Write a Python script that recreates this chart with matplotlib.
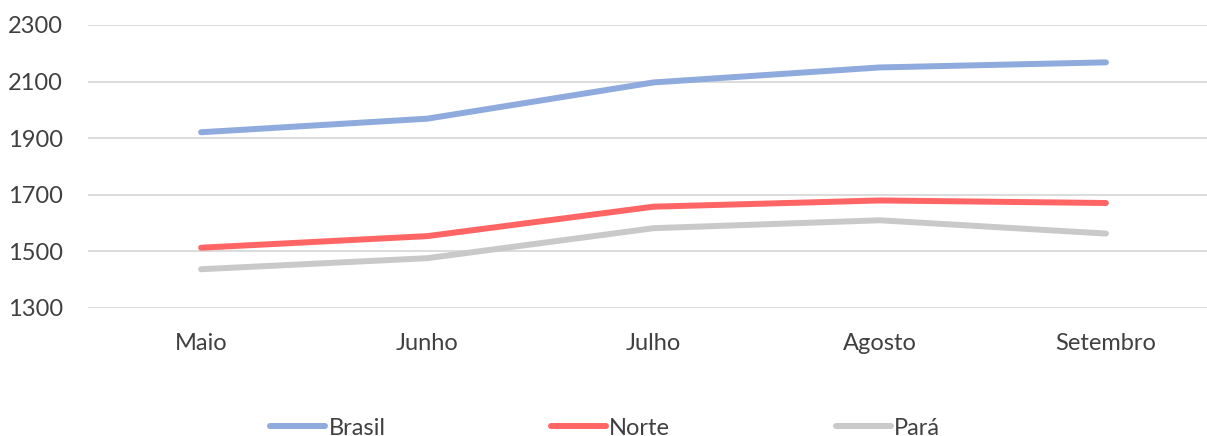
import matplotlib
matplotlib.use("Agg")
import matplotlib.pyplot as plt
from matplotlib.lines import Line2D

months = ["Maio", "Junho", "Julho", "Agosto", "Setembro"]
brasil = [1921, 1969, 2097, 2150, 2168]
norte = [1513, 1554, 1658, 1680, 1671]
para = [1437, 1476, 1582, 1610, 1563]
yticks = [1300, 1500, 1700, 1900, 2100, 2300]

series = [
    ("Brasil", brasil, "#8FAADC"),
    ("Norte", norte, "#FF6565"),
    ("Pará", para, "#C9C9C9"),
]

plt.rcParams["font.family"] = ["Lato", "DejaVu Sans"]
text_color = "#404040"

W, H = 1207, 436
fig = plt.figure(figsize=(W / 100, H / 100), dpi=100)
left, right = 88 / W, 1219 / W
bottom, top = 1 - 308 / H, 1 - 25 / H
ax = fig.add_axes([left, bottom, right - left, top - bottom])

x = list(range(len(months)))
handles = []
for name, vals, color in series:
    ax.plot(x, vals, color=color, lw=4.3, solid_capstyle="round",
            solid_joinstyle="round", label=name, zorder=3)
    handles.append(Line2D([], [], color=color, lw=4.3, solid_capstyle="round"))

ax.set_xlim(-0.5, len(months) - 0.5)
ax.set_ylim(1300, 2300)
ax.set_yticks(yticks)
ax.set_xticks(x)
ax.set_xticklabels(months)
ax.grid(axis="y", color="#D9D9D9", lw=1.3, zorder=0)
for s in ax.spines.values():
    s.set_visible(False)
ax.tick_params(axis="both", length=0, labelsize=17, colors=text_color)
ax.tick_params(axis="x", pad=18)
ax.tick_params(axis="y", pad=18)

fig.legend(handles, [s[0] for s in series], loc="center",
           bbox_to_anchor=(605 / W, 1 - 428 / H), ncol=3, frameon=False,
           handlelength=2.33, handletextpad=0.15, columnspacing=7.0,
           fontsize=17, labelcolor=text_color)

fig.savefig("out.png", dpi=100)
